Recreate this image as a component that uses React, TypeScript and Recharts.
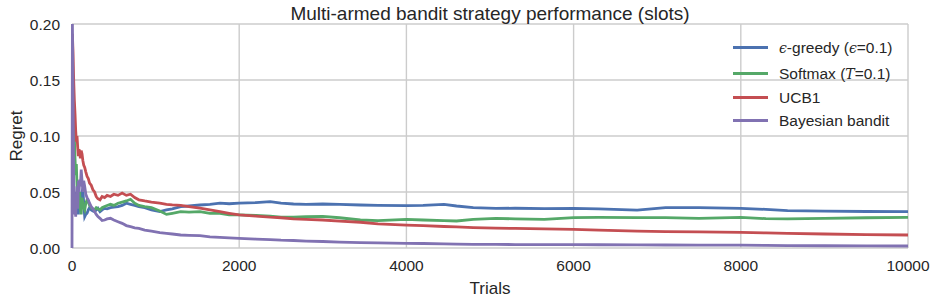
import React from 'react';
import { CartesianGrid, Legend, Line, LineChart, XAxis, YAxis } from 'recharts';

// trial numbers (shared x values)
const trials = [
  0, 5, 12, 20, 28, 36, 44, 52, 60, 68,
  76, 84, 92, 100, 110, 120, 130, 140, 152, 165,
  180, 195, 210, 230, 250, 270, 290, 310, 335, 360,
  390, 420, 460, 500, 550, 600, 650, 700, 750, 800,
  870, 950, 1050, 1130, 1200, 1300, 1400, 1530, 1650, 1770,
  1880, 2000, 2200, 2370, 2500, 2650, 2800, 3000, 3200, 3450,
  3660, 4000, 4200, 4450, 4600, 4800, 5070, 5300, 5650, 6000,
  6300, 6760, 7100, 7500, 8000, 8300, 8560, 9000, 9500, 10000,
];

const epsilonGreedy = [
  0.12, 0.12, 0.08, 0.05, 0.035, 0.045, 0.03, 0.05, 0.035, 0.045,
  0.03, 0.04, 0.05, 0.045, 0.038, 0.05, 0.053, 0.04, 0.028, 0.03,
  0.031, 0.034, 0.036, 0.034, 0.033, 0.0325, 0.034, 0.0355, 0.0324, 0.034,
  0.0354, 0.035, 0.036, 0.0365, 0.037, 0.038, 0.04, 0.039, 0.038, 0.0369,
  0.036, 0.034, 0.0325, 0.034, 0.035, 0.0369, 0.0375, 0.0384, 0.039, 0.04,
  0.0395, 0.04, 0.0405, 0.0414, 0.04, 0.0393, 0.039, 0.0393, 0.039, 0.0384,
  0.038, 0.0378, 0.038, 0.039, 0.0375, 0.036, 0.0354, 0.0355, 0.0352, 0.0354,
  0.035, 0.0339, 0.0361, 0.036, 0.0354, 0.0345, 0.0333, 0.033, 0.0326, 0.0324,
];

const softmax = [
  0.13, 0.13, 0.135, 0.125, 0.1, 0.08, 0.065, 0.075, 0.055, 0.045,
  0.06, 0.04, 0.05, 0.035, 0.03, 0.045, 0.04, 0.036, 0.034, 0.04,
  0.043, 0.041, 0.038, 0.036, 0.035, 0.034, 0.036, 0.035, 0.034, 0.036,
  0.037, 0.038, 0.039, 0.038, 0.04, 0.041, 0.042, 0.0435, 0.04, 0.038,
  0.037, 0.036, 0.033, 0.03, 0.031, 0.0325, 0.032, 0.0325, 0.031, 0.031,
  0.0295, 0.0295, 0.029, 0.0285, 0.0275, 0.0275, 0.028, 0.0283, 0.027, 0.025,
  0.0244, 0.0256, 0.025, 0.0245, 0.0241, 0.0255, 0.0265, 0.026, 0.0256, 0.0272,
  0.0274, 0.0272, 0.0271, 0.0265, 0.0274, 0.0262, 0.026, 0.0265, 0.027, 0.0274,
];

const ucb1 = [
  0.19, 0.19, 0.175, 0.15, 0.132, 0.12, 0.105, 0.095, 0.1, 0.09,
  0.082, 0.088, 0.086, 0.08, 0.087, 0.084, 0.078, 0.074, 0.072, 0.068,
  0.064, 0.062, 0.058, 0.056, 0.052, 0.05, 0.046, 0.044, 0.043, 0.046,
  0.045, 0.047, 0.046, 0.048, 0.047, 0.049, 0.047, 0.048, 0.045, 0.043,
  0.042, 0.041, 0.04, 0.039, 0.0385, 0.038, 0.037, 0.0355, 0.034, 0.0325,
  0.031, 0.0295, 0.0285, 0.0275, 0.027, 0.026, 0.0255, 0.025, 0.024, 0.023,
  0.0215, 0.0205, 0.02, 0.0192, 0.0188, 0.0182, 0.0178, 0.0175, 0.017, 0.0167,
  0.016, 0.015, 0.0146, 0.0144, 0.014, 0.0135, 0.013, 0.0125, 0.012, 0.0116,
];

const bayesian = [
  0, 0.2, 0.14, 0.055, 0.03, 0.045, 0.028, 0.042, 0.055, 0.035,
  0.06, 0.05, 0.061, 0.055, 0.07, 0.06, 0.05, 0.06, 0.055, 0.048,
  0.045, 0.043, 0.04, 0.037, 0.035, 0.0325, 0.03, 0.028, 0.0265, 0.0245,
  0.025, 0.026, 0.0265, 0.025, 0.0235, 0.022, 0.02, 0.019, 0.018, 0.0176,
  0.016, 0.015, 0.0137, 0.013, 0.0125, 0.0116, 0.0113, 0.011, 0.01, 0.0095,
  0.009, 0.0086, 0.008, 0.0075, 0.007, 0.0067, 0.0062, 0.0058, 0.0053, 0.0048,
  0.0046, 0.0042, 0.004, 0.0037, 0.0035, 0.0033, 0.0032, 0.0031, 0.003, 0.003,
  0.0029, 0.0028, 0.0027, 0.0026, 0.0026, 0.0024, 0.0022, 0.002, 0.0019, 0.0018,
];

const xTicks = [0, 2000, 4000, 6000, 8000, 10000];
const yTicks = [0, 0.05, 0.1, 0.15, 0.2];

const FONT = '"Liberation Sans", Arial, sans-serif';
const TEXT = '#262626';
const GRID = '#cccccc';

const data = trials.map((t, i) => ({
  trial: t,
  greedy: epsilonGreedy[i],
  softmax: softmax[i],
  ucb1: ucb1[i],
  bayesian: bayesian[i],
}));

const mathStyle: React.CSSProperties = {
  fontFamily: '"DejaVu Serif", serif',
  fontStyle: 'italic',
  fontSize: 14,
};

const series = [
  {
    key: 'greedy',
    color: '#4C72B0',
    label: (
      <>
        <span style={mathStyle}>ϵ</span>-greedy (<span style={mathStyle}>ϵ</span>=0.1)
      </>
    ),
  },
  {
    key: 'softmax',
    color: '#55A868',
    label: (
      <>
        Softmax (<span style={mathStyle}>T</span>=0.1)
      </>
    ),
  },
  { key: 'ucb1', color: '#C44E52', label: <>UCB1</> },
  { key: 'bayesian', color: '#8172B2', label: <>Bayesian bandit</> },
];

const legendRowHeights = [27, 25, 23, 23];

const renderLegend = () => (
  <div style={{ fontFamily: FONT, fontSize: 15.5, color: TEXT }}>
    {series.map((s, i) => (
      <div
        key={s.key}
        style={{ display: 'flex', alignItems: 'center', height: legendRowHeights[i] }}
      >
        <div style={{ width: 35, height: 3, background: s.color, marginRight: 11 }} />
        <div style={{ whiteSpace: 'nowrap' }}>{s.label}</div>
      </div>
    ))}
  </div>
);

const App = () => {
  return (
    <div style={{ position: 'absolute', left: 0, top: 0, width: 937, height: 303, background: '#fff' }}>
      <div
        style={{
          position: 'absolute',
          left: 72,
          width: 836,
          top: 4,
          textAlign: 'center',
          fontFamily: FONT,
          fontSize: 19,
          lineHeight: '19px',
          color: TEXT,
          zIndex: 2,
        }}
      >
        Multi-armed bandit strategy performance (slots)
      </div>
      <LineChart
        width={937}
        height={303}
        data={data}
        margin={{ top: 24, right: 29, bottom: 0, left: 0 }}
      >
        <CartesianGrid stroke={GRID} strokeWidth={1.4} horizontalValues={yTicks} verticalValues={xTicks} />
        <XAxis
          dataKey='trial'
          type='number'
          domain={[0, 10000]}
          ticks={xTicks}
          axisLine={false}
          tickLine={false}
          tickSize={0}
          tickMargin={12}
          height={55}
          tick={{ fontFamily: FONT, fontSize: 15.5, fill: TEXT }}
          label={{
            value: 'Trials',
            position: 'insideBottom',
            offset: 9,
            style: { fontFamily: FONT, fontSize: 17, fill: TEXT },
          }}
        />
        <YAxis
          type='number'
          domain={[0, 0.2]}
          ticks={yTicks}
          axisLine={false}
          tickLine={false}
          tickSize={0}
          tickMargin={12}
          width={72}
          tickFormatter={(v: number) => v.toFixed(2)}
          tick={{ fontFamily: FONT, fontSize: 15.5, fill: TEXT }}
          label={{
            content: () => (
              <text
                x={16}
                y={136}
                transform='rotate(-90 16 136)'
                textAnchor='middle'
                dominantBaseline='central'
                style={{ fontFamily: FONT, fontSize: 17, fill: TEXT }}
              >
                Regret
              </text>
            ),
          }}
        />
        <Legend
          layout='vertical'
          align='center'
          verticalAlign='middle'
          wrapperStyle={{ top: 34, left: 733, width: 190 }}
          content={renderLegend}
        />
        {series.map((s) => (
          <Line
            key={s.key}
            type='linear'
            dataKey={s.key}
            stroke={s.color}
            strokeWidth={2.8}
            dot={false}
            activeDot={false}
            isAnimationActive={false}
          />
        ))}
      </LineChart>
    </div>
  );
};

export default App;
